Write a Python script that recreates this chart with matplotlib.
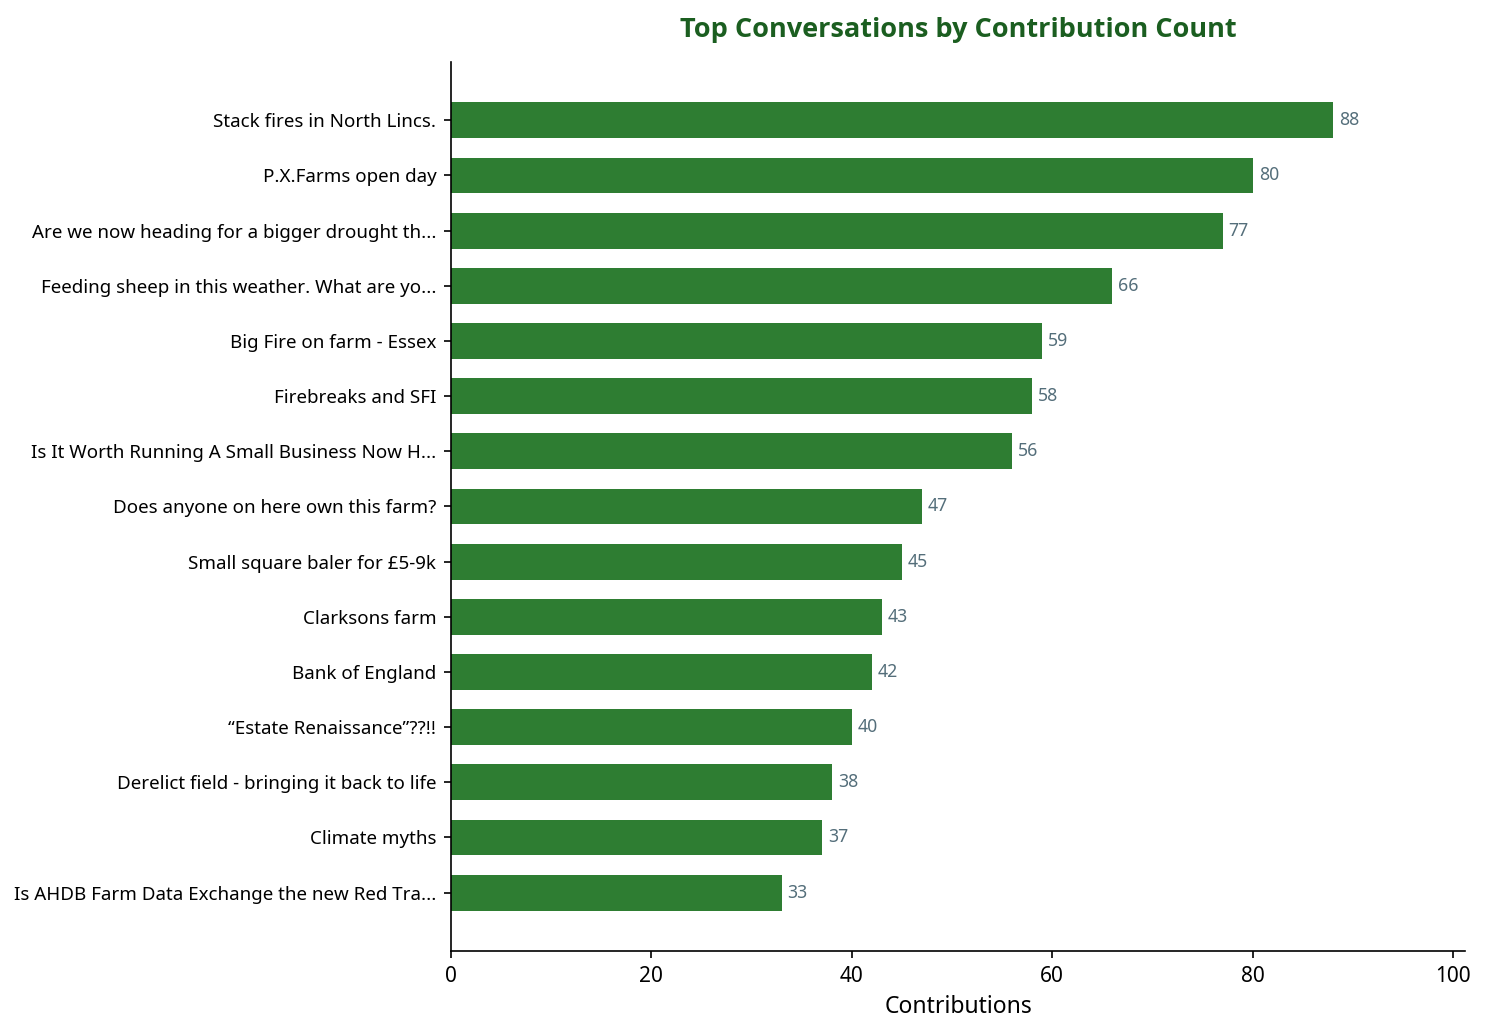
import matplotlib
matplotlib.use("Agg")
import matplotlib.pyplot as plt

plt.rcParams['font.family'] = ['Noto Sans', 'DejaVu Sans']

topics = [
    "Stack fires in North Lincs.",
    "P.X.Farms open day",
    "Are we now heading for a bigger drought th...",
    "Feeding sheep in this weather. What are yo...",
    "Big Fire on farm - Essex",
    "Firebreaks and SFI",
    "Is It Worth Running A Small Business Now H...",
    "Does anyone on here own this farm?",
    "Small square baler for £5-9k",
    "Clarksons farm",
    "Bank of England",
    "\u201cEstate Renaissance\u201d??!!",
    "Derelict field - bringing it back to life",
    "Climate myths",
    "Is AHDB Farm Data Exchange the new Red Tra...",
]
counts = [88, 80, 77, 66, 59, 58, 56, 47, 45, 43, 42, 40, 38, 37, 33]

bar_color = "#2e7d32"
title_color = "#1b5e20"
label_color = "#546e7a"

fig = plt.figure(figsize=(1486 / 150, 1035 / 150), dpi=150)
ax = fig.add_axes([0.3035, 0.0812, 0.6824, 0.8589])

ypos = list(range(len(topics)))[::-1]
ax.barh(ypos, counts, height=0.65, color=bar_color)
ax.set_yticks(ypos)
ax.set_yticklabels(topics, fontsize=9)
ax.set_xlim(0, max(counts) * 1.15)

for y, c in zip(ypos, counts):
    ax.text(c + 0.6, y, str(c), va="center", ha="left", fontsize=8.5, color=label_color)

ax.set_xlabel("Contributions", fontsize=11)
ax.tick_params(axis="x", labelsize=10)
ax.set_title("Top Conversations by Contribution Count", fontsize=13, fontweight="bold",
             color=title_color, pad=12, family=["Open Sans", "DejaVu Sans"])

ax.spines["top"].set_visible(False)
ax.spines["right"].set_visible(False)

fig.savefig("out.png", dpi=150)
